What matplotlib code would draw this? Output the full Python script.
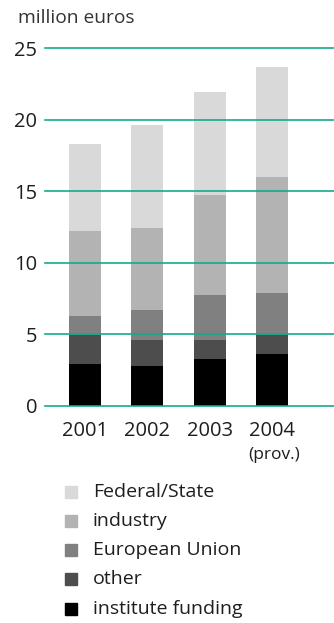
import matplotlib.pyplot as plt
from matplotlib.patches import Rectangle
from matplotlib.transforms import blended_transform_factory

plt.rcParams['font.family'] = ['Open Sans', 'DejaVu Sans']

# Funding by source, million euros (2004 provisional)
years = ['2001', '2002', '2003', '2004']
institute_funding = [2.9, 2.75, 3.25, 3.6]
other = [2.05, 1.85, 1.35, 1.3]
european_union = [1.3, 2.1, 3.15, 2.95]
industry = [5.95, 5.7, 6.95, 8.15]
federal_state = [6.1, 7.2, 7.2, 7.7]

series = [
    ('institute funding', institute_funding, '#000000'),
    ('other', other, '#4d4d4d'),
    ('European Union', european_union, '#808080'),
    ('industry', industry, '#b3b3b3'),
    ('Federal/State', federal_state, '#d9d9d9'),
]
yticks = [0, 5, 10, 15, 20, 25]
txt = '#1e1e1e'

W, H = 334, 623
fig = plt.figure(figsize=(W / 100, H / 100), dpi=100)

# axes placed in pixel terms: 0 at y=405.5, 25 at y=48
ppu = (405.5 - 48) / 25
ymin, ymax = -1, 26
ax_bot = 405.5 + ppu * (0 - ymin)
ax_top = 48 - ppu * (ymax - 25)
ax_left, ax_right = 45, 334
ax = fig.add_axes([ax_left / W, 1 - ax_bot / H, (ax_right - ax_left) / W, (ax_bot - ax_top) / H])

step = 62.3
x0 = 85
ax.set_xlim(-(x0 - ax_left) / step, (ax_right - x0) / step)
ax.set_ylim(ymin, ymax)

xs = list(range(len(years)))
bottom = [0] * len(years)
for name, vals, color in series:
    ax.bar(xs, vals, bottom=bottom, width=32 / step, color=color, zorder=1)
    bottom = [b + v for b, v in zip(bottom, vals)]

for y in yticks:
    ax.axhline(y, color='#14aa8c', lw=1.2, zorder=3, clip_on=False)

ax.set_yticks(yticks)
ax.set_yticklabels([str(t) for t in yticks], fontsize=14.5, color=txt)
ax.tick_params(axis='y', length=0, pad=5.5)
ax.set_xticks([])
for s in ax.spines.values():
    s.set_visible(False)
ax.patch.set_alpha(0)

trans = blended_transform_factory(ax.transData, fig.transFigure)
for i, yr in enumerate(years):
    ax.text(i, 1 - 431.5 / H, yr, transform=trans, ha='center', va='center',
            fontsize=14.5, color=txt)
ax.text(3.03, 1 - 455 / H, '(prov.)', transform=trans, ha='center', va='center',
        fontsize=12.5, color=txt)

fig.text(18 / W, 1 - 18 / H, 'million euros', ha='left', va='center',
         fontsize=13.8, color='#333333')

# legend, top entry first
rows = [492, 521, 550, 579, 609]
for (name, vals, color), y in zip(series[::-1], rows):
    fig.patches.append(Rectangle((65 / W, 1 - (y + 6) / H), 12 / W, 12 / H,
                                 transform=fig.transFigure, color=color))
    fig.text(93 / W, 1 - y / H, name, ha='left', va='center',
             fontsize=14, color=txt)

fig.savefig('out.png', dpi=100)
